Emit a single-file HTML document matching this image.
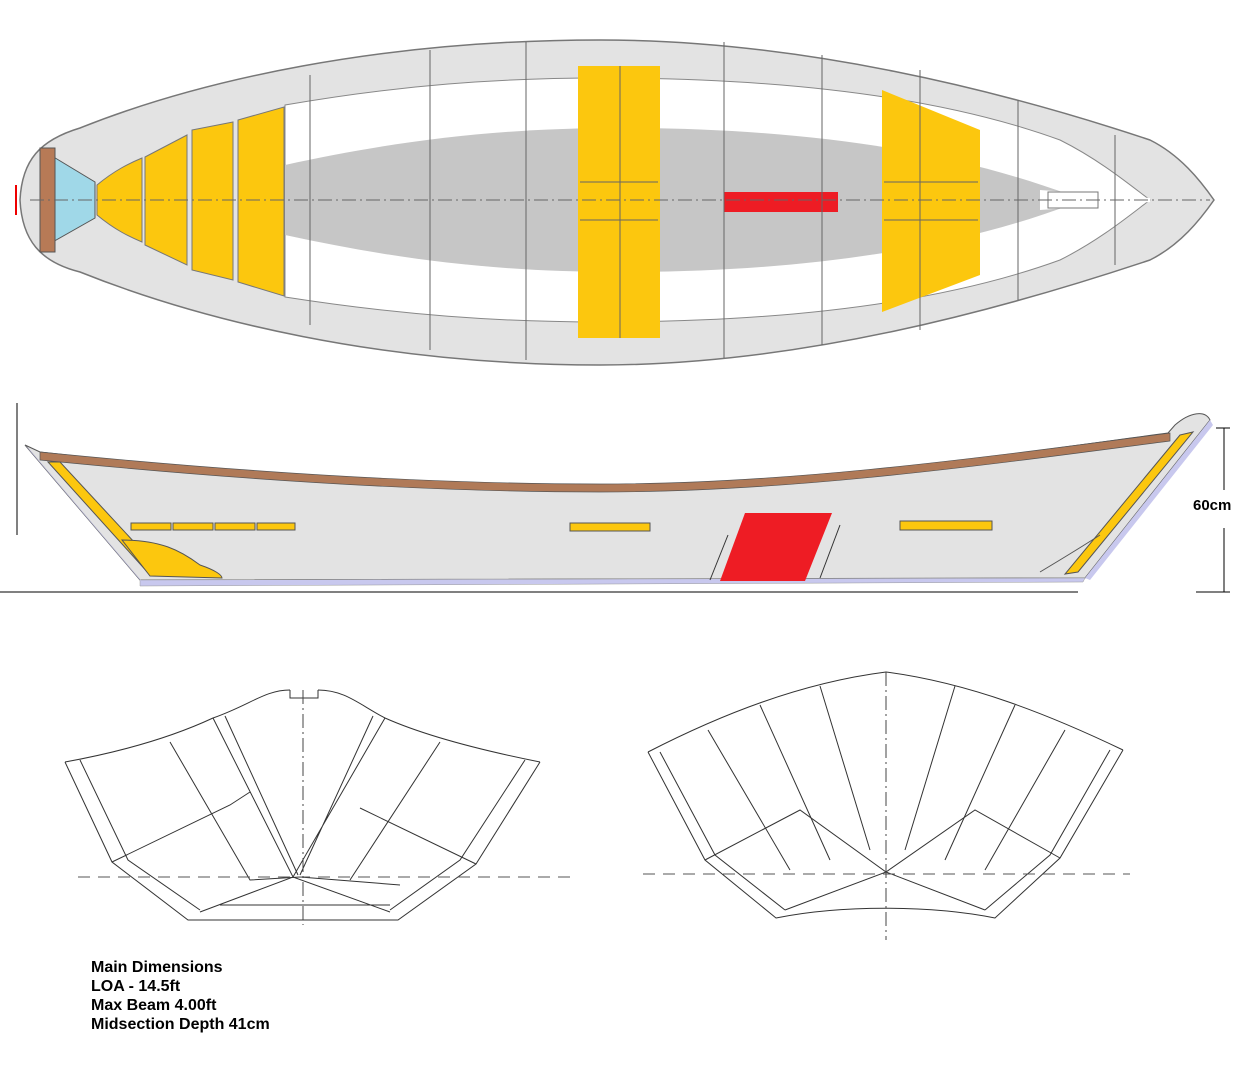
<!DOCTYPE html>
<html><head><meta charset="utf-8"><style>
html,body{margin:0;padding:0;background:#fff;}
svg{display:block}
.t{font-family:"Liberation Sans",sans-serif;font-weight:bold;font-size:16px;fill:#000}
</style></head><body>
<svg width="1247" height="1065" viewBox="0 0 1247 1065" xmlns="http://www.w3.org/2000/svg">
<!-- TOP VIEW -->
<path d="M20,200 C22,160 40,140 80,128 C200,80 380,40 600,40 C800,40 1000,90 1150,140 C1180,155 1200,180 1214,200 C1200,220 1180,245 1150,260 C1000,310 800,365 600,365 C380,365 200,320 80,272 C40,262 22,240 20,200 Z" fill="#e3e3e3" stroke="#777" stroke-width="1.5"/>
<path d="M285,105 C400,85 500,78 600,78 C800,78 950,100 1060,140 C1100,160 1130,185 1150,200 C1130,215 1100,240 1060,260 C950,300 800,322 600,322 C500,322 400,315 285,297 Z" fill="#fff" stroke="#888" stroke-width="1"/>
<path d="M285,165 C400,140 500,128 620,128 C800,128 950,150 1070,195 L1070,205 C950,250 800,272 620,272 C500,272 400,260 285,235 Z" fill="#c6c6c6"/>
<path d="M1040,190 L1150,198 L1150,202 L1040,210 Z" fill="#fff"/>
<rect x="1048" y="192" width="50" height="16" fill="#fff" stroke="#777"/>
<path d="M42,150 L95,182 L95,218 L42,248 Z" fill="#a0d8e8" stroke="#555"/>
<rect x="40" y="148" width="15" height="104" fill="#b77a56" stroke="#555"/>
<path d="M97,185 C115,170 130,163 142,158 L142,242 C130,237 115,230 97,215 Z" fill="#fcc70e" stroke="#777"/>
<path d="M145,157 L187,135 L187,265 L145,245 Z" fill="#fcc70e" stroke="#777"/>
<path d="M192,130 L233,122 L233,280 L192,270 Z" fill="#fcc70e" stroke="#777"/>
<path d="M238,120 L284,107 L284,296 L238,282 Z" fill="#fcc70e" stroke="#777"/>
<rect x="578" y="66" width="82" height="272" fill="#fcc70e"/>
<path d="M882,90 L980,130 L980,275 L882,312 Z" fill="#fcc70e"/>
<rect x="724" y="192" width="114" height="20" fill="#ee1c24"/>
<line x1="30" y1="200" x2="1210" y2="200" stroke="#666" stroke-width="1" stroke-dasharray="14,4,2,4"/>
<g stroke="#666" stroke-width="1">
<line x1="310" y1="75" x2="310" y2="325"/><line x1="430" y1="50" x2="430" y2="350"/>
<line x1="526" y1="42" x2="526" y2="360"/><line x1="724" y1="42" x2="724" y2="358"/>
<line x1="822" y1="55" x2="822" y2="345"/><line x1="920" y1="70" x2="920" y2="330"/>
<line x1="1018" y1="100" x2="1018" y2="300"/><line x1="1115" y1="135" x2="1115" y2="265"/>
<line x1="620" y1="66" x2="620" y2="338"/><line x1="580" y1="182" x2="658" y2="182"/><line x1="580" y1="220" x2="658" y2="220"/>
<line x1="884" y1="182" x2="978" y2="182"/><line x1="884" y1="220" x2="978" y2="220"/>
</g>
<line x1="16" y1="185" x2="16" y2="215" stroke="#e00" stroke-width="2"/>
<!-- SIDE VIEW -->
<line x1="17" y1="403" x2="17" y2="535" stroke="#000"/>
<line x1="0" y1="592" x2="1078" y2="592" stroke="#000"/>
<path d="M25,445 L140,580 L1085,578 L1210,420 C1205,410 1190,412 1175,425 L1168,433 C1000,455 800,488 600,488 C400,488 200,470 40,452 Z" fill="#e3e3e3" stroke="#555"/>
<path d="M140,580 L1085,578 L1083,582 L140,586 Z" fill="#c8c8ee" stroke="#999" stroke-width="0.5"/>
<path d="M25,445 L140,580 L145,585 L30,450 Z" fill="#c8c8ee"/>
<path d="M1210,420 L1085,578 L1090,580 L1213,425 Z" fill="#c8c8ee"/>
<path d="M40,452 C200,468 400,484 600,484 C800,484 1000,455 1170,433 L1170,441 C1000,463 800,492 600,492 C400,492 200,476 40,460 Z" fill="#b07a58" stroke="#555" stroke-width="0.7"/>
<path d="M48,462 L60,462 L160,570 L150,575 Z" fill="#fcc70e" stroke="#555"/>
<path d="M122,540 C160,540 180,550 200,565 C215,570 222,575 222,578 L150,576 Z" fill="#fcc70e" stroke="#555"/>
<path d="M1180,435 L1193,432 L1078,572 L1065,574 Z" fill="#fcc70e" stroke="#555"/>
<path d="M1040,572 C1060,560 1080,548 1100,535" stroke="#555" fill="none"/>
<rect x="131" y="523" width="40" height="7" fill="#fcc70e" stroke="#555"/>
<rect x="173" y="523" width="40" height="7" fill="#fcc70e" stroke="#555"/>
<rect x="215" y="523" width="40" height="7" fill="#fcc70e" stroke="#555"/>
<rect x="257" y="523" width="38" height="7" fill="#fcc70e" stroke="#555"/>
<rect x="570" y="523" width="80" height="8" fill="#fcc70e" stroke="#555"/>
<rect x="900" y="521" width="92" height="9" fill="#fcc70e" stroke="#555"/>
<path d="M745,513 L832,513 L805,581 L720,581 Z" fill="#ee1c24"/>
<line x1="728" y1="535" x2="710" y2="580" stroke="#333"/><line x1="840" y1="525" x2="820" y2="578" stroke="#333"/>
<line x1="1224" y1="428" x2="1224" y2="490" stroke="#000"/><line x1="1224" y1="528" x2="1224" y2="592" stroke="#000"/>
<line x1="1216" y1="428" x2="1230" y2="428" stroke="#000"/><line x1="1196" y1="592" x2="1230" y2="592" stroke="#000"/>
<text class="t" x="1193" y="510" style="font-size:15px">60cm</text>
<!-- LEFT SECTION -->
<g fill="none" stroke="#333" stroke-width="1">
<path d="M65,762 C120,752 170,738 213,718 C250,705 265,690 290,690 M318,690 C345,690 360,705 385,718 C430,738 490,752 540,762"/>
<path d="M290,690 L290,698 L318,698 L318,690"/>
<path d="M65,762 L112,862 L188,920 L398,920 L476,864 L540,762"/>
<path d="M80,760 L128,860 L200,910 M525,760 L460,860 L390,910"/>
<path d="M112,862 L230,805 L250,792 M476,864 L360,808"/>
<path d="M213,718 L293,877 L385,718 M225,716 L298,875 M373,716 L300,875"/>
<path d="M170,742 L250,880 L300,877 L400,885 M440,742 L350,880"/>
<path d="M200,912 L293,877 L390,912 M220,905 L390,905"/>
</g>
<line x1="78" y1="877" x2="570" y2="877" stroke="#555" stroke-dasharray="12,8"/>
<line x1="303" y1="690" x2="303" y2="925" stroke="#444" stroke-dasharray="14,4,2,4"/>
<!-- RIGHT SECTION -->
<g fill="none" stroke="#333" stroke-width="1">
<path d="M648,752 C720,715 800,683 886,672 C970,683 1050,715 1123,750"/>
<path d="M648,752 L705,860 L776,918 C840,905 930,905 995,918 L1060,858 L1123,750"/>
<path d="M660,752 L715,855 L785,910 M1110,750 L1050,855 L985,910"/>
<path d="M705,860 L800,810 L886,872 L975,810 L1060,858"/>
<path d="M708,730 L790,870 M760,705 L830,860 M820,686 L870,850 M955,686 L905,850 M1015,705 L945,860 M1065,730 L985,870"/>
<path d="M785,910 L886,872 L985,910"/>
</g>
<line x1="643" y1="874" x2="1130" y2="874" stroke="#555" stroke-dasharray="12,8"/>
<line x1="886" y1="672" x2="886" y2="940" stroke="#444" stroke-dasharray="14,4,2,4"/>
<text class="t" x="91" y="972">Main Dimensions</text>
<text class="t" x="91" y="991">LOA - 14.5ft</text>
<text class="t" x="91" y="1010">Max Beam 4.00ft</text>
<text class="t" x="91" y="1029">Midsection Depth 41cm</text>
</svg>
</body></html>
